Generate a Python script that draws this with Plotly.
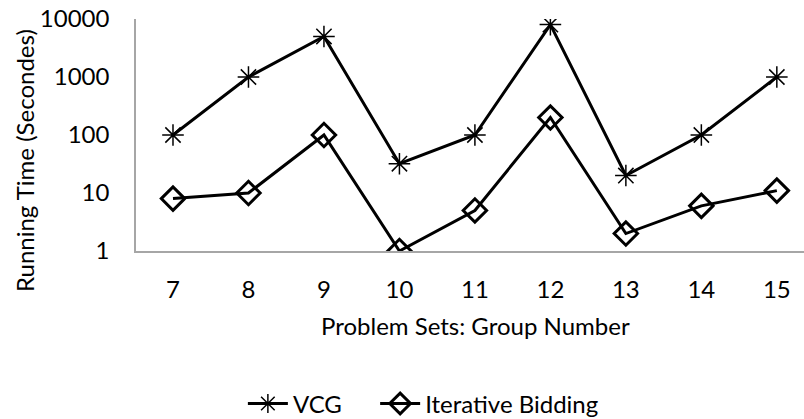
import plotly.graph_objects as go

groups = [7, 8, 9, 10, 11, 12, 13, 14, 15]
vcg = [100, 1000, 5000, 32, 100, 8000, 20, 100, 1000]
iterative = [8, 10, 100, 1, 5, 200, 2, 6, 11]
y_ticks = [1, 10, 100, 1000, 10000]
y_tick_labels = ["1", "10", "100", "1000", "10000"]

FONT = "Lato"
FS = 24

fig = go.Figure()
fig.add_trace(go.Scatter(
    x=groups, y=vcg, name="VCG", mode="lines+markers", legend="legend",
    line=dict(color="black", width=3),
    marker=dict(symbol="asterisk-open", size=18, color="black",
                line=dict(color="black", width=1.5)),
))
fig.add_trace(go.Scatter(
    x=groups, y=iterative, name="Iterative Bidding", mode="lines+markers",
    legend="legend2",
    line=dict(color="black", width=3),
    marker=dict(symbol="diamond-open", size=18, color="black",
                line=dict(color="black", width=3)),
))

leg_common = dict(orientation="h", xref="paper", xanchor="left",
                  yref="container", y=0.036, yanchor="middle",
                  font=dict(size=FS), itemwidth=40)

fig.update_layout(
    width=804, height=419,
    margin=dict(l=136, r=0, t=19, b=168),
    paper_bgcolor="white", plot_bgcolor="white",
    font=dict(family=FONT, size=FS, color="black"),
    showlegend=True,
    legend=dict(x=0.160, **leg_common),
    legend2=dict(x=0.358, **leg_common),
    annotations=[
        dict(text="Problem Sets: Group Number", xref="paper", yref="paper",
             x=0.5075, y=-0.323, xanchor="center", yanchor="middle",
             showarrow=False, font=dict(size=FS)),
        dict(text="Running Time (Secondes)", xref="paper", yref="paper",
             x=-0.1677, y=0.392, xanchor="center", yanchor="middle",
             textangle=-90, showarrow=False, font=dict(size=FS)),
    ],
)
fig.update_xaxes(
    range=[6.51, 15.36], tickvals=groups, ticktext=[str(g) for g in groups],
    showgrid=False, zeroline=False, showline=True, linecolor="#a6a6a6", linewidth=1.5,
    ticks="outside", ticklen=16, tickcolor="rgba(0,0,0,0)",
)
fig.update_yaxes(
    type="log", range=[0, 4], tickvals=y_ticks, ticktext=y_tick_labels,
    showgrid=False, zeroline=False, showline=True, linecolor="#a6a6a6", linewidth=1.5,
    ticks="outside", ticklen=20, tickcolor="rgba(0,0,0,0)",
)

fig.write_html("out.html")
